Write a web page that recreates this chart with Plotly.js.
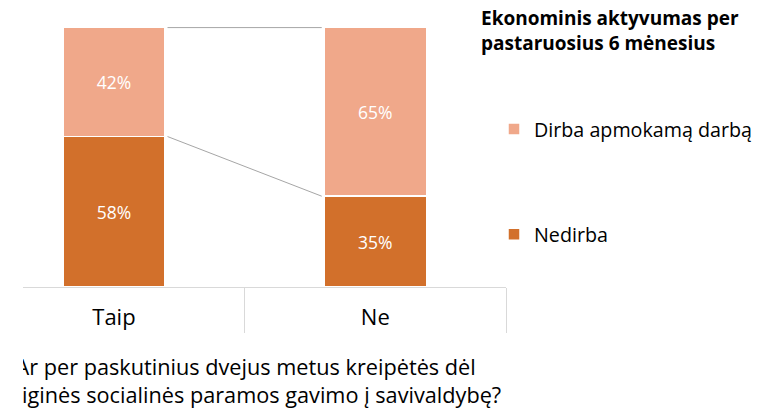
<!DOCTYPE html>
<html>
<head>
<meta charset="utf-8">
<script src="https://cdn.plot.ly/plotly-3.0.1.min.js"></script>
<style>
html,body{margin:0;padding:0;background:#fff;}
#frame{position:relative;width:783px;height:410px;overflow:hidden;background:#fff;}
#crop{position:absolute;left:23px;top:0;width:760px;height:410px;overflow:hidden;}
#chart{position:absolute;left:-23px;top:0;width:783px;height:410px;}
</style>
</head>
<body>
<div id="frame"><div id="crop"><div id="chart"></div></div></div>
<script>
// ---- data ----
var categories = ["Taip", "Ne"];
var nedirba = [0.58, 0.35];
var dirba = [0.42, 0.65];
var seriesNames = ["Nedirba", "Dirba apmokamą darbą"];
var legendTitle = "Ekonominis aktyvumas per<br>pastaruosius 6 mėnesius";
var axisTitle = "Ar per paskutinius dvejus metus kreipėtės dėl<br>piniginės socialinės paramos gavimo į savivaldybę?";

// ---- style ----
var FONT = "'Open Sans', 'DejaVu Sans', sans-serif";
var DARK = "#D2702B";
var LIGHT = "#F0A88A";
var BARW = 0.39;
var xpos = categories.map(function (c, i) { return i; });

function pct(v) { return Math.round(v * 100) + "%"; }

var traces = [
  {
    type: "bar", name: seriesNames[0], x: xpos, y: nedirba,
    width: BARW, marker: {color: DARK, line: {color: "#FFFFFF", width: 1.5}},
    text: nedirba.map(pct), textposition: "inside", insidetextanchor: "middle",
    textfont: {family: FONT, size: 17.5, color: "#FFFFFF"}, hoverinfo: "skip",
    legend: "legend2"
  },
  {
    type: "bar", name: seriesNames[1], x: xpos, y: dirba,
    width: BARW, marker: {color: LIGHT, line: {color: "#FFFFFF", width: 1.5}},
    text: dirba.map(pct), textposition: "inside", insidetextanchor: "middle",
    textfont: {family: FONT, size: 17.5, color: "#FFFFFF"}, hoverinfo: "skip",
    legend: "legend"
  }
];

// series lines connecting the bars (derived from data)
var tops = nedirba.map(function (v, i) { return v + dirba[i]; });
[nedirba, tops].forEach(function (lvl) {
  traces.push({
    type: "scatter", mode: "lines",
    x: [xpos[0] + BARW / 2 + 0.01, xpos[1] - BARW / 2 - 0.01],
    y: [lvl[0], lvl[1]],
    line: {color: "#A6A6A6", width: 1}, showlegend: false, hoverinfo: "skip"
  });
});

var layout = {
  width: 783, height: 410,
  margin: {l: 23, r: 277, t: 25, b: 123, pad: 0},
  paper_bgcolor: "#FFFFFF", plot_bgcolor: "#FFFFFF",
  barmode: "stack",
  font: {family: FONT, color: "#000000"},
  xaxis: {
    range: [-0.348, 1.5], tickvals: xpos, ticktext: categories,
    ticks: "", showgrid: false, zeroline: false,
    showline: true, linecolor: "#D9D9D9", linewidth: 1,
    tickfont: {family: FONT, size: 22, color: "#000000"},
    ticklabelstandoff: 11,
    minor: {tickvals: [0.5, 1.5], ticks: "outside", ticklen: 45, tickcolor: "#D9D9D9", tickwidth: 1, showgrid: false}
  },
  yaxis: {range: [0, 1.01], visible: false, fixedrange: true},
  legend: {
    x: (494 - 23) / 483, y: (287 - 131) / 259, xanchor: "left", yanchor: "middle",
    font: {family: FONT, size: 19.7, color: "#000000"}, bgcolor: "rgba(0,0,0,0)"
  },
  legend2: {
    x: (494 - 23) / 483, y: (287 - 235) / 259, xanchor: "left", yanchor: "middle",
    font: {family: FONT, size: 19.7, color: "#000000"}, bgcolor: "rgba(0,0,0,0)"
  },
  annotations: [
    {
      text: "<b>" + legendTitle.replace("<br>", "</b><br><b>") + "</b>",
      xref: "paper", yref: "paper", x: (479 - 23) / 483, y: (287 - 6) / 259,
      xanchor: "left", yanchor: "top", align: "left", showarrow: false,
      font: {family: FONT, size: 19, color: "#000000"}
    },
    {
      text: axisTitle,
      xref: "paper", yref: "paper", x: (245 - 23) / 483, y: (287 - 349) / 259,
      xanchor: "center", yanchor: "top", align: "center", showarrow: false,
      font: {family: FONT, size: 21.7, color: "#000000"}
    }
  ],
  showlegend: true
};

Plotly.newPlot("chart", traces, layout, {displayModeBar: false, staticPlot: true});
</script>
</body>
</html>
